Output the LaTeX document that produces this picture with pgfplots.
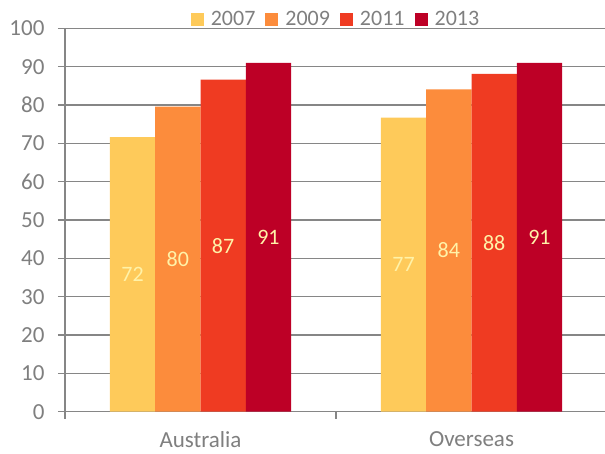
\documentclass[border=0pt]{standalone}
\usepackage{fontspec}
\setmainfont{Carlito}
\usepackage{pgfplots}
\pgfplotsset{compat=1.18}

\definecolor{cA}{HTML}{FECA5A}
\definecolor{cB}{HTML}{FC8C3C}
\definecolor{cC}{HTML}{EF3B22}
\definecolor{cD}{HTML}{BD0026}
\definecolor{txt}{HTML}{7F7F7F}
\definecolor{lin}{HTML}{868686}
\definecolor{lbl}{HTML}{FFF2A8}

\begin{document}
\begin{tikzpicture}
\begin{axis}[
  name=ax,
  scale only axis,
  width=542pt, height=383.4pt,
  xmin=-0.5, xmax=1.5,
  ymin=0, ymax=100,
  ytick={0,10,...,100},
  xtick={-0.5,0.5,1.5},
  xticklabels={},
  extra x ticks={0,1},
  extra x tick labels={Australia,Overseas},
  extra x tick style={major tick length=0pt,
    tick label style={inner sep=0pt, yshift=-20pt}},
  axis lines*=left,
  axis line style={lin, line width=1.3pt},
  tick style={lin, line width=1.3pt},
  tick align=outside,
  major tick length=7pt,
  ymajorgrids,
  grid style={lin, line width=1.3pt},
  tick label style={font=\fontsize{23}{26}\selectfont, text=txt},
  /pgf/number format/assume math mode=true,
  yticklabel style={xshift=-10pt},
  ybar=0pt,
  bar width=45.3pt,
  clip=false,
  visualization depends on=y \as \rawy,
  nodes near coords={\pgfmathprintnumber[fixed,precision=0]{\pgfplotspointmeta}},
  every node near coord/.append style={
    anchor=center, text=lbl,
    font=\fontsize{22}{24}\selectfont,
    shift={(axis direction cs:0,-\rawy/2)}},
  legend columns=4,
  legend style={
    at={(axis description cs:0.5,1)}, anchor=south,
    yshift=-1pt, draw=none, fill=none,
    font=\fontsize{22}{24}\selectfont, text=txt,
    /tikz/every even column/.append style={column sep=8pt},
    /tikz/every odd column/.append style={column sep=5pt},
    inner sep=0pt,
  },
  legend image code/.code={\fill[#1] (0pt,-6.5pt) rectangle (13pt,6.5pt);},
]
\addplot[fill=cA, draw=none] coordinates {(0,71.6) (1,76.7)};
\addlegendentry{2007}
\addplot[fill=cB, draw=none] coordinates {(0,79.6) (1,84.1)};
\addlegendentry{2009}
\addplot[fill=cC, draw=none] coordinates {(0,86.6) (1,88.1)};
\addlegendentry{2011}
\addplot[fill=cD, draw=none] coordinates {(0,91.0) (1,91.0)};
\addlegendentry{2013}
\end{axis}
\pgfresetboundingbox
\path ([shift={(-65pt,-41.3pt)}]ax.south west) rectangle ([shift={(-2pt,28.3pt)}]ax.north east);
\end{tikzpicture}
\end{document}
